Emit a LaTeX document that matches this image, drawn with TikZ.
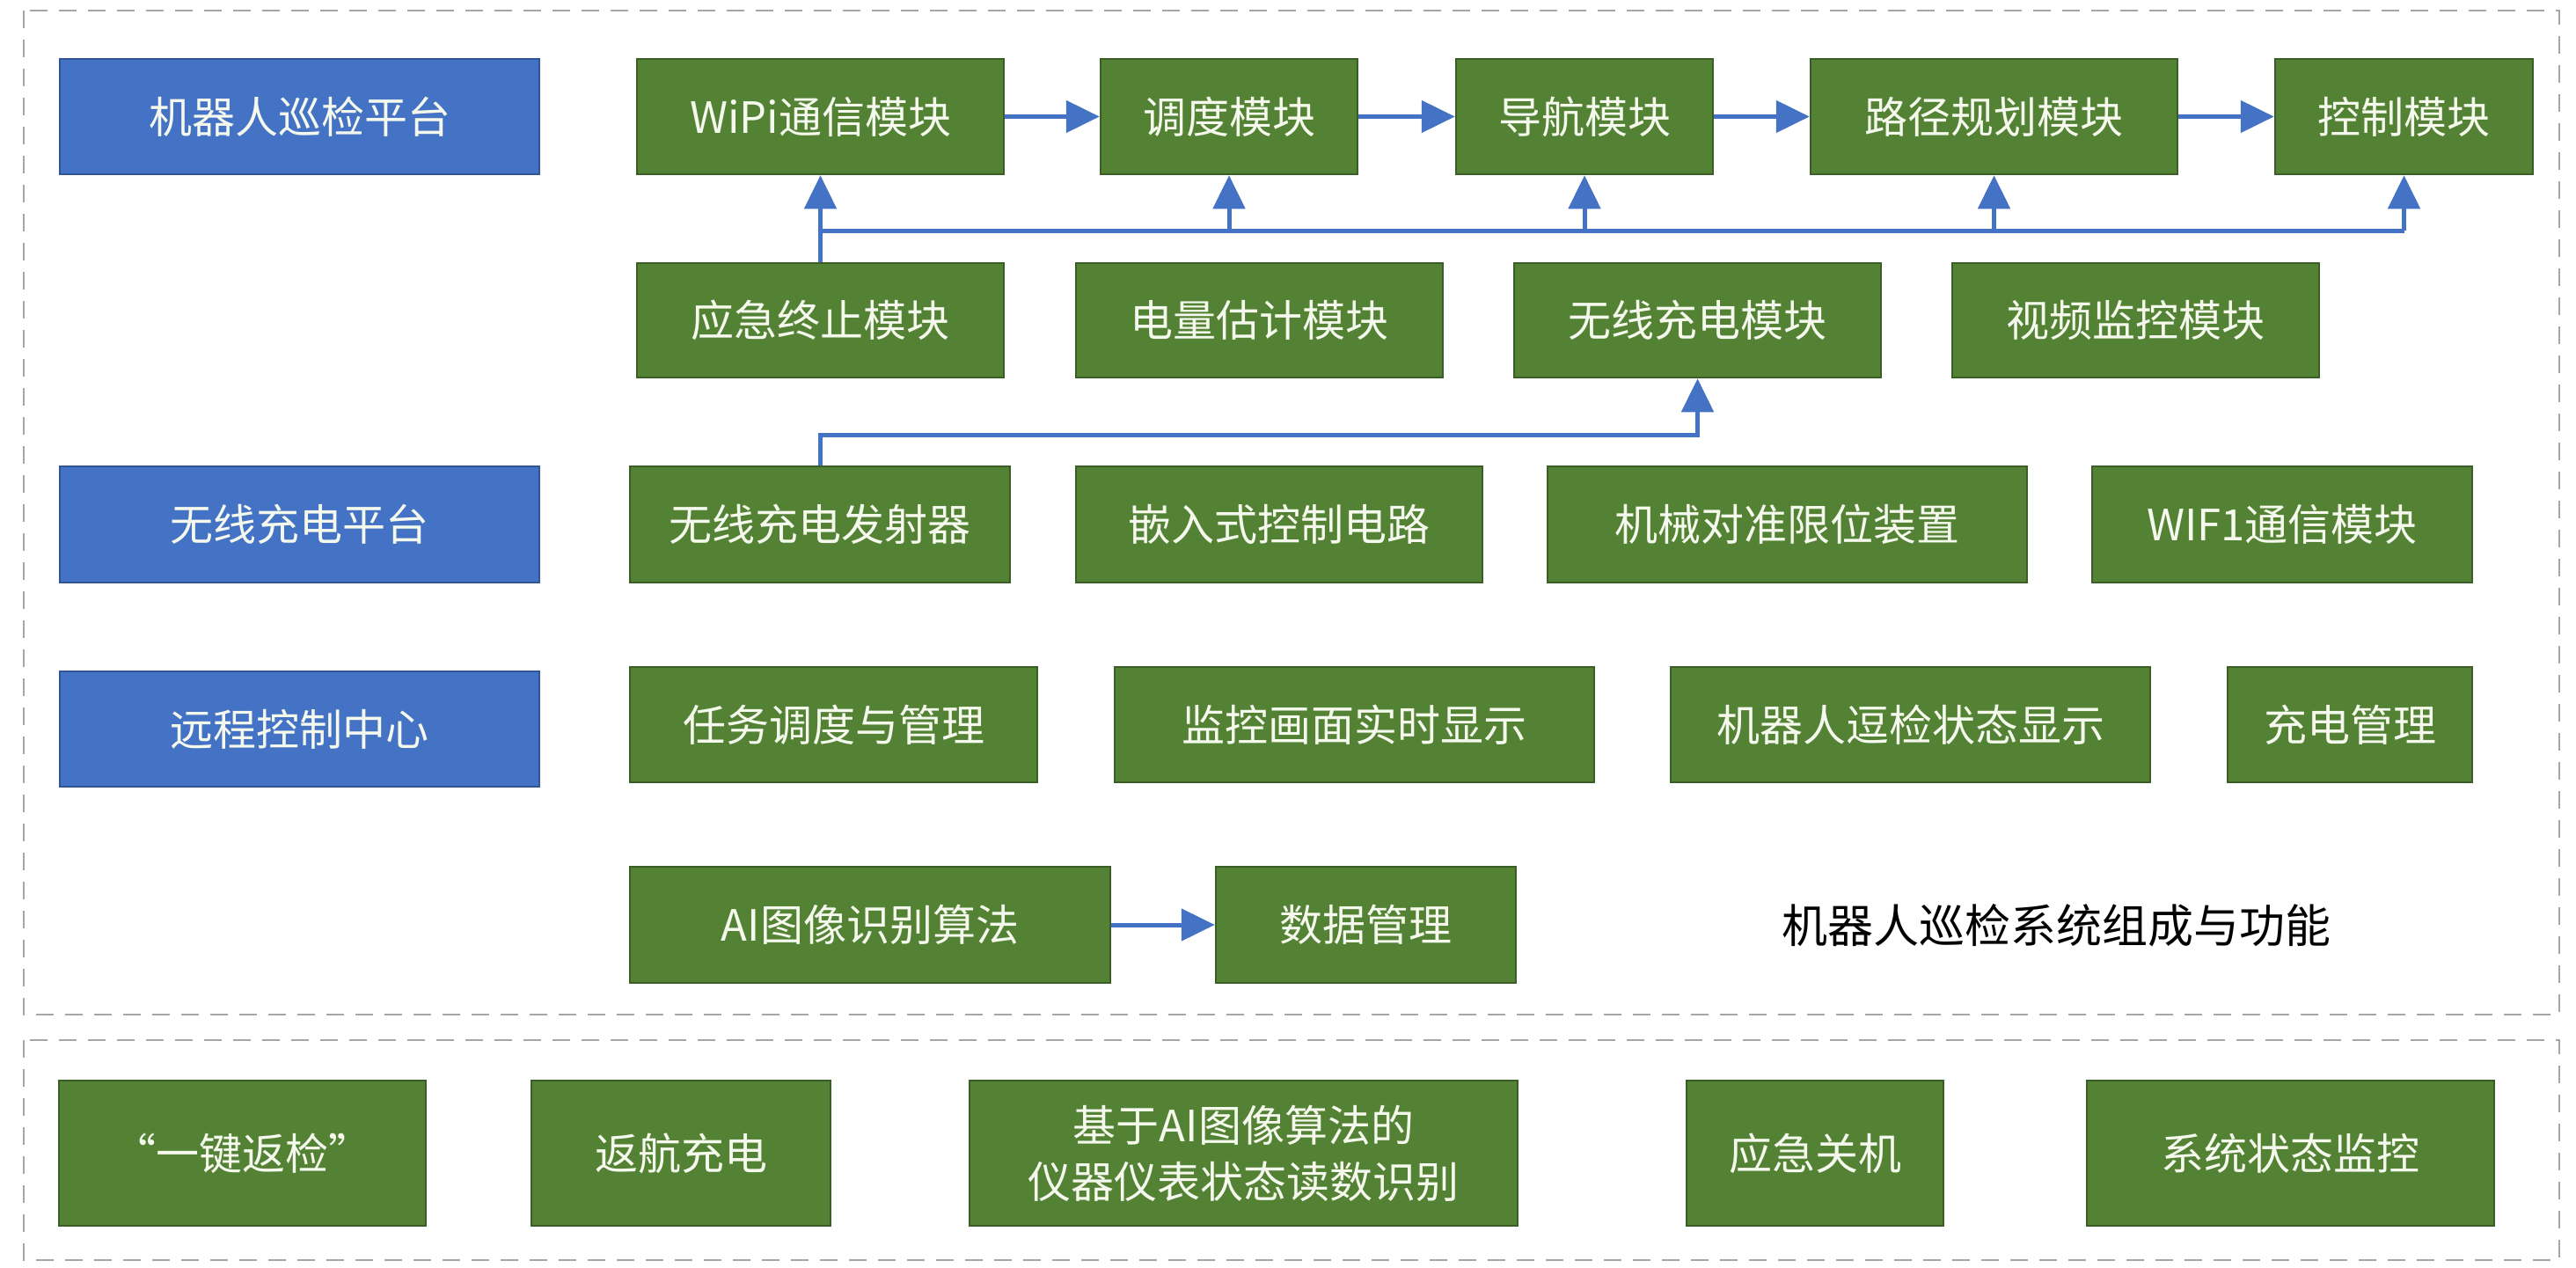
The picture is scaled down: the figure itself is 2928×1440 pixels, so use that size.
\documentclass[tikz,border=0pt]{standalone}
\usepackage{fontspec}
\setmainfont{Noto Sans CJK SC}
\usetikzlibrary{arrows.meta}
\definecolor{bfill}{HTML}{4472C4}
\definecolor{bline}{HTML}{2F5597}
\definecolor{gfill}{HTML}{548235}
\definecolor{gline}{HTML}{3B5E27}
\definecolor{arrc}{HTML}{4472C4}
\definecolor{dashc}{HTML}{A6A6A6}
\definecolor{txtc}{HTML}{F5F8EC}
\begin{document}
\begin{tikzpicture}[x=1pt,y=-1pt,
  basebox/.style={line width=2.5pt,inner sep=0pt,text=txtc,align=center,
    font=\fontsize{49}{64}\selectfont,minimum height=131pt},
  gbox/.style={basebox,draw=gline,fill=gfill},
  bbox/.style={basebox,draw=bline,fill=bfill},
  conn/.style={draw=arrc,line width=5pt},
  arr/.style={conn,-{Triangle[length=38pt,width=36pt]}},
  frame/.style={draw=dashc,line width=2.5pt,dash pattern=on 20pt off 13pt}]
\useasboundingbox[fill=white] (0,0) rectangle (2928,1440);
\draw[frame] (27,12) rectangle (2909,1153);
\draw[frame] (27,1182) rectangle (2909,1432);
% row 1
\node[bbox,minimum width=545pt] (p1) at (340.5,132.5) {机器人巡检平台};
\node[gbox,minimum width=417pt] (wipi) at (932.5,132.5) {WiPi通信模块};
\node[gbox,minimum width=292pt] (dd) at (1397,132.5) {调度模块};
\node[gbox,minimum width=292pt] (dh) at (1801,132.5) {导航模块};
\node[gbox,minimum width=417pt] (lj) at (2266.5,132.5) {路径规划模块};
\node[gbox,minimum width=293pt] (kz) at (2732.5,132.5) {控制模块};
% row 2
\node[gbox,minimum width=417pt,minimum height=130pt] (yj) at (932.5,364) {应急终止模块};
\node[gbox,minimum width=417pt,minimum height=130pt] (dl) at (1431.5,364) {电量估计模块};
\node[gbox,minimum width=417pt,minimum height=130pt] (wx) at (1929.5,364) {无线充电模块};
\node[gbox,minimum width=417pt,minimum height=130pt] (sp) at (2427.5,364) {视频监控模块};
% row 3
\node[bbox,minimum width=545pt,minimum height=132pt] (p2) at (340.5,596) {无线充电平台};
\node[gbox,minimum width=432pt,minimum height=132pt] (fs) at (932,596) {无线充电发射器};
\node[gbox,minimum width=462pt,minimum height=132pt] (qr) at (1454,596) {嵌入式控制电路};
\node[gbox,minimum width=545pt,minimum height=132pt] (jx) at (2031.5,596) {机械对准限位装置};
\node[gbox,minimum width=432pt,minimum height=132pt] (wf) at (2594,596) {WIF1通信模块};
% row 4
\node[bbox,minimum width=545pt] (p3) at (340.5,828.5) {远程控制中心};
\node[gbox,minimum width=463pt] (rw) at (947.5,823.5) {任务调度与管理};
\node[gbox,minimum width=545pt] (jk) at (1539.5,823.5) {监控画面实时显示};
\node[gbox,minimum width=545pt] (jq) at (2171.5,823.5) {机器人逗检状态显示};
\node[gbox,minimum width=278pt] (cd) at (2671,823.5) {充电管理};
% row 5
\node[gbox,minimum width=546pt,minimum height=132pt] (ai) at (989,1051) {AI图像识别算法};
\node[gbox,minimum width=341pt,minimum height=132pt] (sj) at (1552.5,1051) {数据管理};
\node[inner sep=0pt,text=black,font=\fontsize{52}{60}\selectfont] (title) at (2337,1052) {机器人巡检系统组成与功能};
% bottom frame
\node[gbox,minimum width=417pt,minimum height=165pt] (b1) at (275.5,1310.5) {“一键返检”};
\node[gbox,minimum width=340pt,minimum height=165pt] (b2) at (774,1310.5) {返航充电};
\node[gbox,minimum width=623pt,minimum height=165pt] (b3) at (1413.5,1310.5) {基于AI图像算法的\\仪器仪表状态读数识别};
\node[gbox,minimum width=292pt,minimum height=165pt] (b4) at (2063,1310.5) {应急关机};
\node[gbox,minimum width=463pt,minimum height=165pt] (b5) at (2603.5,1310.5) {系统状态监控};
% connectors row 1
\draw[arr] (wipi) -- (dd);
\draw[arr] (dd) -- (dh);
\draw[arr] (dh) -- (lj);
\draw[arr] (lj) -- (kz);
% bus
\coordinate (bus) at (0,262);
\draw[arr] (yj.north) -- (wipi.south);
\draw[conn] (yj.north |- bus) -- (kz.south |- bus);
\draw[arr] (dd.south |- bus) -- (dd.south);
\draw[arr] (dh.south |- bus) -- (dh.south);
\draw[arr] (lj.south |- bus) -- (lj.south);
\draw[arr] (kz.south |- bus) -- (kz.south);
% charger link
\coordinate (cbus) at (0,494);
\draw[arr] (fs.north) -- (fs.north |- cbus) -| (wx.south);
% AI -> data
\draw[arr] (ai) -- (sj);
\end{tikzpicture}
\end{document}
